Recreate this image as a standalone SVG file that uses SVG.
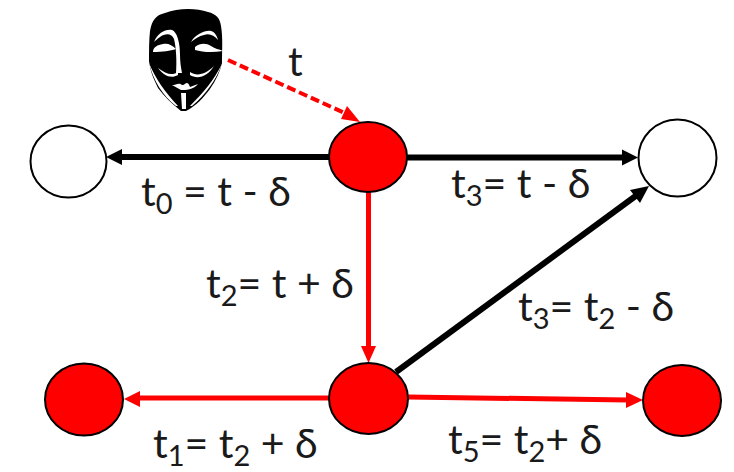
<svg xmlns="http://www.w3.org/2000/svg" width="734" height="472" viewBox="0 0 734 472">
<style>
.n{stroke:#000;stroke-width:2}
.r{fill:#f00}
.w{fill:#fff}
.e{fill:none}
.k{stroke:#000;stroke-width:6}
.d{stroke:#f00;stroke-width:5}
.ah{fill:#000}
.ar{fill:#f00}
text{font-family:"Lato","Carlito","Liberation Sans",sans-serif;font-size:41px;fill:#1a1a1a}
.s{font-size:29px}
</style>
<g id="mask">
<path fill="#000" d="M150 31C152 20 156 15 165 13C178 8 196 8 208 12C216 14 220 18 221 26C223 38 222 50 222 63C220 72 216 80 210 89C204 97 196 106 186 111L181 111C172 104 164 96 158 88C153 78 150 70 149 61C149 50 149 40 150 31Z"/>
<path fill="#fff" d="M153 51C154 47 157 45 163 44C168 43 172 45 176 49C170 51 163 52 153 52ZM195 47C200 43 206 43 211 46C215 49 219 49 223 51C212 53 202 52 195 50Z"/>
<path fill="#fff" d="M154 42C158 33 165 29 172 30C177 32 180 42 180 55C180 62 181 68 182 73L176 73C177 60 176 47 174 39C172 33 165 33 160 37C157 39 155 41 154 42Z"/>
<path fill="#fff" d="M191 42C196 34 205 30 211 31C215 32 217 36 218 40C214 35 209 33 204 35C199 36 195 39 191 42Z"/>
<path fill="#fff" d="M149 63C155 78 165 92 178 106L176 106C163 96 153 80 149 63ZM222 64C216 80 206 94 192 106L190 106C203 93 214 80 222 64Z"/>
<path fill="#fff" d="M158 68C166 74 172 76 178 72L178 75C171 79 164 76 158 68ZM190 72C197 77 206 74 214 66C208 76 198 80 190 75Z"/>
<path fill="#fff" d="M182 85C185 86 187 79 190 87L198 84C193 90 186 90 181 90L172 85C176 85 179 82 182 85ZM181 93L186 93L186 109L182 109Z"/>
</g>
<g id="connectors">
<path class="e k" d="M329 157H120"/><path class="ah" d="M106 157L122 149V165Z"/>
<path class="e k" d="M407 157.500H624"/><path class="ah" d="M638 157.500L622 149.500V165.500Z"/>
<path class="e k" d="M396 372L637 195"/><path class="ah" d="M649 186L640 203L630 190Z"/>
<path class="e d" d="M368.500 192V350"/><path class="ar" d="M368.500 363L361 346H376Z"/>
<path class="e d" d="M329 398H138"/><path class="ar" d="M124 399L140 391V407Z"/>
<path class="e d" d="M408 397L628 400"/><path class="ar" d="M643 400L626 392V408Z"/>
<path fill="none" stroke="#f00" stroke-width="4" stroke-dasharray="9 4" d="M228 60L349 115"/><path class="ar" d="M360 122L341 119L347 106Z"/>
</g>
<g id="n1"><ellipse class="n w" cx="68.500" cy="161.500" rx="38" ry="36"/></g>
<g id="n2"><ellipse class="n r" cx="368" cy="157" rx="39" ry="35"/></g>
<g id="n3"><ellipse class="n w" cx="677.500" cy="158" rx="39" ry="38.500"/></g>
<g id="n4"><ellipse class="n r" cx="84" cy="399.500" rx="39" ry="36"/></g>
<g id="n5"><ellipse class="n r" cx="368.500" cy="398.500" rx="39.500" ry="35.500"/></g>
<g id="n6"><ellipse class="n r" cx="682" cy="400.500" rx="39" ry="35.500"/></g>
<g id="labels">
<text x="288" y="76">t</text>
<text x="141" y="206">t<tspan class="s" dy="8">0</tspan><tspan dy="-8"> = t - δ</tspan></text>
<text x="451" y="198">t<tspan class="s" dy="8">3</tspan><tspan dy="-8">= t - δ</tspan></text>
<text x="206" y="298">t<tspan class="s" dy="8">2</tspan><tspan dy="-8">= t + δ</tspan></text>
<text x="518" y="321">t<tspan class="s" dy="8">3</tspan><tspan dy="-8">= t</tspan><tspan class="s" dy="8">2</tspan><tspan dy="-8"> - δ</tspan></text>
<text x="153" y="458">t<tspan class="s" dy="8">1</tspan><tspan dy="-8">= t</tspan><tspan class="s" dy="8">2</tspan><tspan dy="-8"> + δ</tspan></text>
<text x="448" y="454">t<tspan class="s" dy="8">5</tspan><tspan dy="-8">= t</tspan><tspan class="s" dy="8">2</tspan><tspan dy="-8">+ δ</tspan></text>
</g>
</svg>
